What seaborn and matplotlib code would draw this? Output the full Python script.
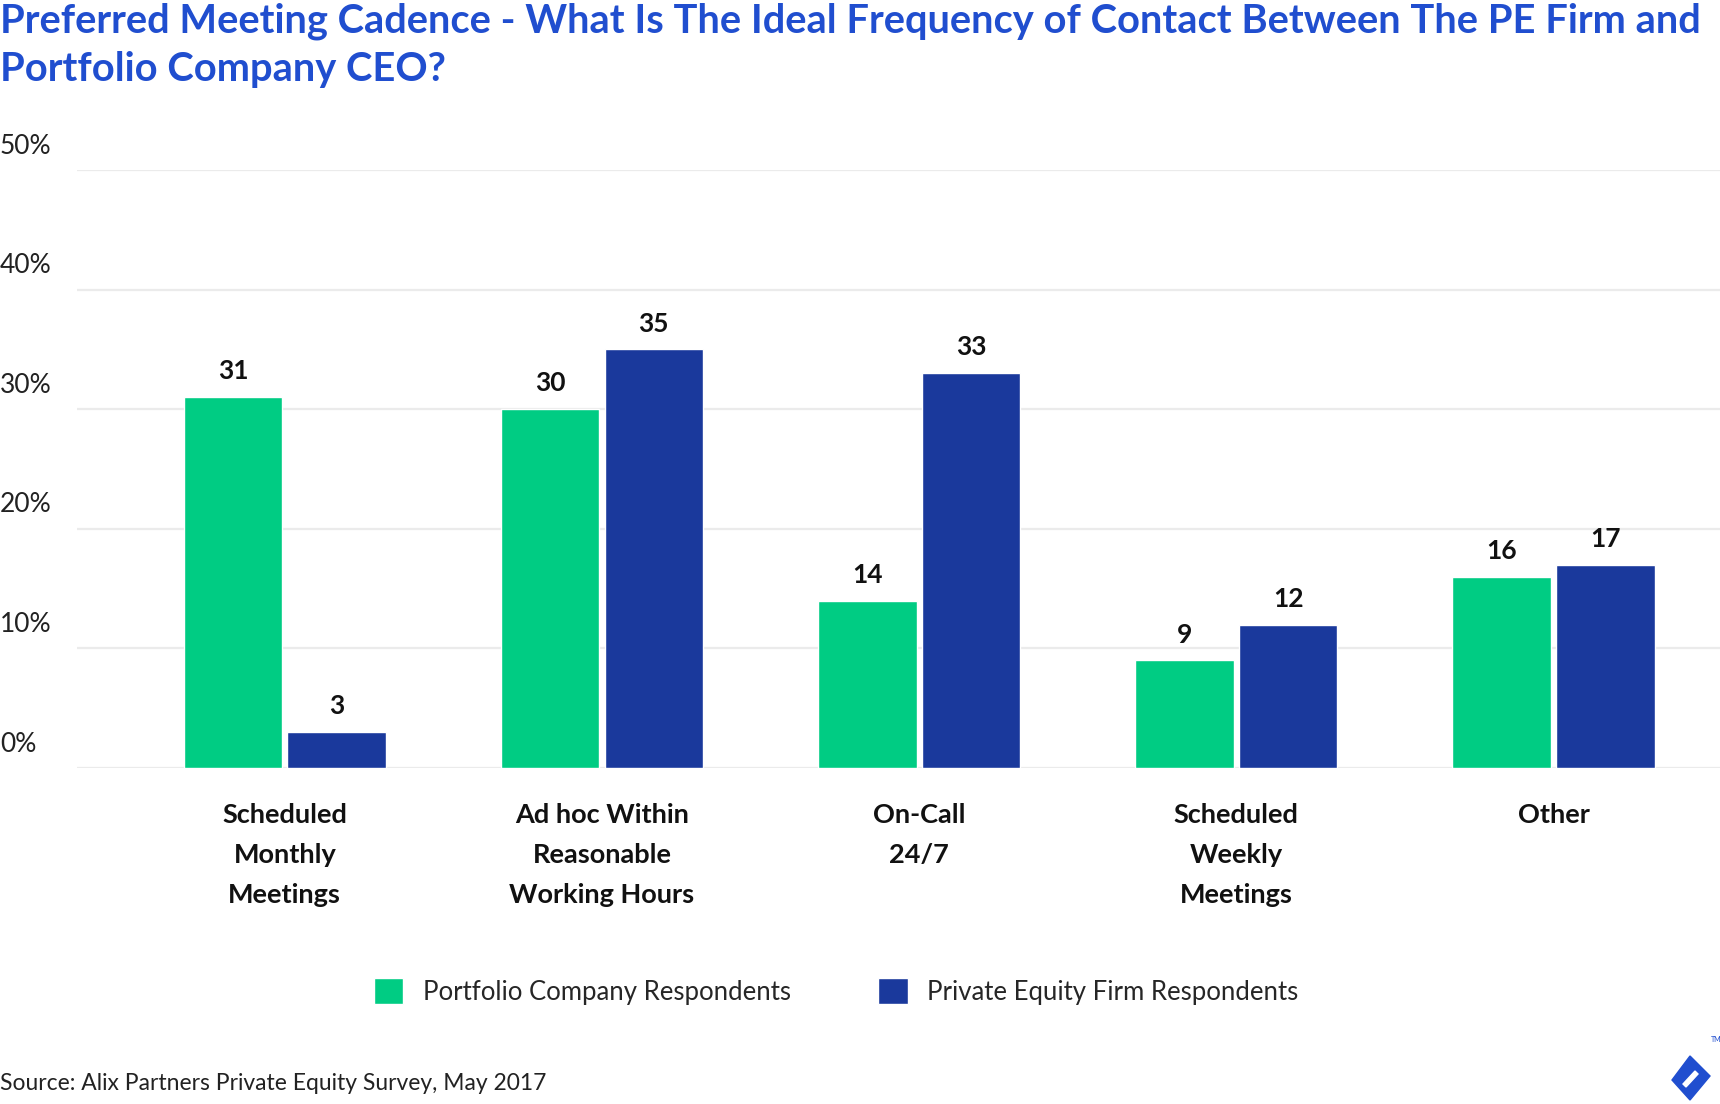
import matplotlib
matplotlib.use("Agg")
import matplotlib.pyplot as plt
import matplotlib.transforms as mtransforms
from matplotlib.patches import Polygon
import pandas as pd
import seaborn as sns

categories = [
    "Scheduled\nMonthly\nMeetings",
    "Ad hoc Within\nReasonable\nWorking Hours",
    "On-Call\n24/7",
    "Scheduled\nWeekly\nMeetings",
    "Other",
]
series_names = ["Portfolio Company Respondents", "Private Equity Firm Respondents"]
portfolio_values = [31, 30, 14, 9, 16]
pe_values = [3, 35, 33, 12, 17]
y_ticks = [0, 10, 20, 30, 40, 50]

GREEN = "#00cc83"
NAVY = "#1a399c"
TITLE_BLUE = "#204ecf"

sns.set_theme(style="white")
plt.rcParams["font.family"] = ["Lato", "DejaVu Sans"]

df = pd.DataFrame({
    "category": categories * 2,
    "group": [series_names[0]] * len(categories) + [series_names[1]] * len(categories),
    "value": portfolio_values + pe_values,
})

fig = plt.figure(figsize=(17.2, 11.04), dpi=100)
ax = fig.add_axes([0.0448, 0.3043, 0.9552, 0.5417])

sns.barplot(
    data=df, x="category", y="value", hue="group",
    palette=[GREEN, NAVY], width=0.654, gap=0.05,
    saturation=1, ax=ax, errorbar=None,
)

for cont in ax.containers:
    ax.bar_label(cont, fmt="%d", padding=10, fontsize=19, fontweight="bold", color="#111111")

ax.set_ylim(0, 50)
ax.set_xlim(-0.655, 4.525)
ax.set_yticks(y_ticks)
ax.set_yticklabels([])
ax.yaxis.grid(True, color="#ebebeb", lw=1.6)
ax.set_axisbelow(True)
ax.tick_params(axis="both", length=0)
ax.tick_params(axis="x", pad=25)
for lbl in ax.get_xticklabels():
    lbl.set_fontsize(19.5)
    lbl.set_fontweight("bold")
    lbl.set_linespacing(1.8)
    lbl.set_color("#111111")
ax.set_xlabel("")
ax.set_ylabel("")
for s in ax.spines.values():
    s.set_visible(False)

# y labels sit at the left edge, just above each gridline
trans = mtransforms.blended_transform_factory(fig.transFigure, ax.transData)
for t in y_ticks:
    ax.text(0.0, t + 2.0, f"{t}%", transform=trans, ha="left", va="center",
            fontsize=19, color="#222222")

handles, labels = ax.get_legend_handles_labels()
ax.legend(
    handles, labels, loc="center", bbox_to_anchor=(0.486, 0.102),
    bbox_transform=fig.transFigure, ncol=2, frameon=False, fontsize=18.5,
    handlelength=1.15, handleheight=1.15, handletextpad=0.75, columnspacing=3.4,
)

fig.text(0.0, 0.998, "Preferred Meeting Cadence - What Is The Ideal Frequency of Contact Between The PE Firm and\nPortfolio Company CEO?",
         ha="left", va="top", fontsize=28.7, fontweight="bold", color=TITLE_BLUE, linespacing=1.36)
fig.text(0.0, 0.019, "Source: Alix Partners Private Equity Survey, May 2017",
         ha="left", va="center", fontsize=16.5, color="#222222")

# small brand mark, bottom right (pixel coords)
mark = Polygon([[1690, 48], [1710, 28], [1690, 4], [1672, 24]],
               closed=True, color=TITLE_BLUE, transform=None)
slot = Polygon([[1695, 33], [1698, 30], [1686, 17], [1683, 20]],
               closed=True, color="white", transform=None)
fig.patches.extend([mark, slot])
fig.text(0.9945, 0.058, "TM", fontsize=5, color=TITLE_BLUE, ha="left", va="center")

fig.savefig("out.png", dpi=100)
